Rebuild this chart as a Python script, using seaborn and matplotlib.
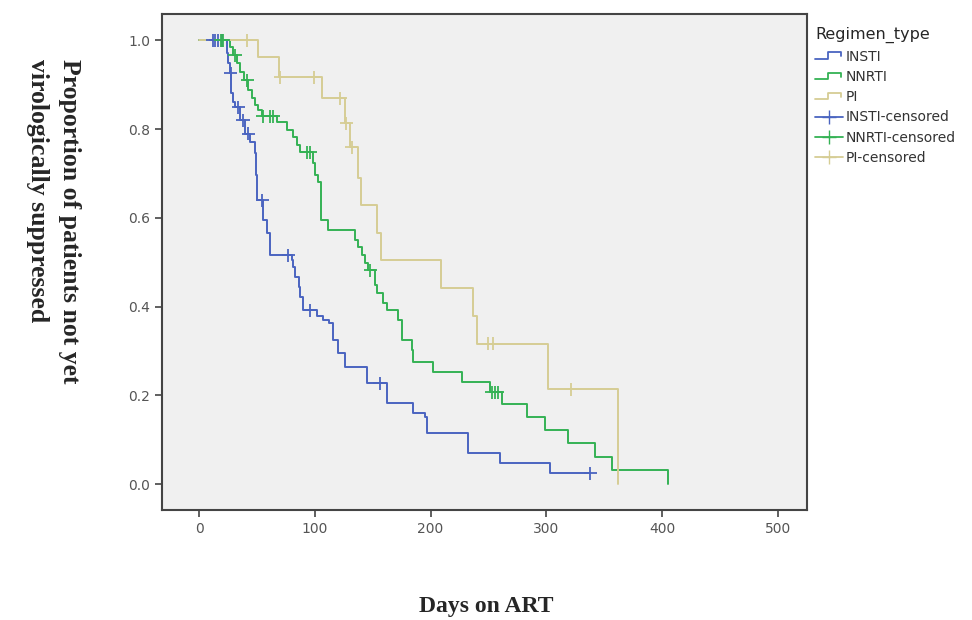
import numpy as np
import pandas as pd
import matplotlib
matplotlib.use("Agg")
import matplotlib.pyplot as plt
import seaborn as sns
from matplotlib.lines import Line2D
from matplotlib.legend_handler import HandlerBase

# Kaplan-Meier steps: event day -> survival after the event
insti_days = [24, 25, 27, 28, 29, 31, 35, 40, 44, 48, 49, 50, 55, 59, 61,
              80, 81, 83, 86, 87, 90, 102, 107, 112, 116, 120, 126, 145,
              162, 185, 195, 197, 232, 260, 303]
insti_surv = [0.971, 0.948, 0.926, 0.881, 0.860, 0.849, 0.820, 0.790, 0.770,
              0.745, 0.696, 0.640, 0.595, 0.565, 0.516, 0.505, 0.489, 0.466,
              0.444, 0.421, 0.392, 0.378, 0.369, 0.363, 0.324, 0.295, 0.264,
              0.227, 0.182, 0.160, 0.151, 0.115, 0.070, 0.047, 0.025]
insti_end = 338
insti_cens = [12, 14, 16, 20, 27.2, 34, 38, 42.5, 54.5, 77, 96, 156, 338]

nnrti_days = [27, 29, 33, 35, 39, 42, 46, 48, 51, 54, 67, 76, 81, 85, 87,
              98, 100, 103, 105, 111, 135, 137, 141, 143, 146, 152, 154, 159,
              162, 172, 175, 184, 185, 202, 227, 251, 262, 283, 299, 319,
              342, 357, 405]
nnrti_surv = [0.984, 0.966, 0.948, 0.928, 0.910, 0.887, 0.869, 0.854, 0.842,
              0.829, 0.815, 0.797, 0.782, 0.764, 0.748, 0.723, 0.696, 0.680,
              0.595, 0.572, 0.550, 0.534, 0.516, 0.498, 0.482, 0.448, 0.430,
              0.408, 0.392, 0.369, 0.324, 0.302, 0.275, 0.252, 0.230, 0.207,
              0.180, 0.151, 0.122, 0.092, 0.061, 0.032, 0.0]
nnrti_end = 405
nnrti_cens = [19, 21, 31, 41.5, 55, 61, 64, 93, 96, 148, 253, 256, 258]

pi_days = [51, 69, 106, 126, 130, 137, 140, 154, 157, 209, 237, 240, 301, 362]
pi_surv = [0.962, 0.917, 0.869, 0.813, 0.759, 0.690, 0.630, 0.567, 0.504,
           0.441, 0.378, 0.317, 0.214, 0.0]
pi_end = 362
pi_cens = [41, 70, 99, 122, 127, 132, 250, 254, 321]

groups = ["INSTI", "NNRTI", "PI"]
colors = {"INSTI": "#4a64c0", "NNRTI": "#34b254", "PI": "#d6cd94"}


def step_value(days, surv, t):
    i = np.searchsorted(days, t, side="right")
    return 1.0 if i == 0 else surv[i - 1]


curve_rows, cens_rows = [], []
for g, d, s, end, c in [("INSTI", insti_days, insti_surv, insti_end, insti_cens),
                        ("NNRTI", nnrti_days, nnrti_surv, nnrti_end, nnrti_cens),
                        ("PI", pi_days, pi_surv, pi_end, pi_cens)]:
    curve_rows.append((g, 0, 1.0))
    curve_rows += [(g, t, v) for t, v in zip(d, s)]
    if end > d[-1]:
        curve_rows.append((g, end, s[-1]))
    cens_rows += [(g, t, step_value(d, s, t)) for t in c]

curves = pd.DataFrame(curve_rows, columns=["group", "day", "surv"])
censored = pd.DataFrame(cens_rows, columns=["group", "day", "surv"])

sns.set_style("white")
fig = plt.figure(figsize=(9.72, 6.2), dpi=100)
ax = fig.add_axes([0.1667, 0.177, 0.664, 0.8])
ax.set_facecolor("#f0f0f0")

sns.lineplot(data=curves, x="day", y="surv", hue="group", palette=colors,
             hue_order=groups, drawstyle="steps-post", estimator=None,
             sort=False, linewidth=1.4, legend=False, ax=ax)
sns.scatterplot(data=censored, x="day", y="surv", hue="group", palette=colors,
                hue_order=groups, marker="+", s=90, linewidth=1.3,
                legend=False, ax=ax, zorder=3)

ax.set_xlim(-32, 525.5)
ax.set_ylim(-0.0586, 1.0586)
ax.set_xticks(np.arange(0, 501, 100))
ax.set_yticks(np.arange(0, 1.01, 0.2))
ax.set_yticklabels([f"{v:.1f}" for v in np.arange(0, 1.01, 0.2)])
ax.tick_params(axis="both", direction="out", length=5, width=1.2,
               colors="#444444", labelcolor="#555555", labelsize=10,
               bottom=True, left=True)
for sp in ax.spines.values():
    sp.set_color("#444444")
    sp.set_linewidth(1.5)
ax.set_xlabel("")
ax.set_ylabel("")

serif = ["Liberation Serif", "DejaVu Serif"]
# y label reads top to bottom, first line on the right
fig.text(0.072, 0.905, "Proportion of patients not yet", rotation=270,
         ha="center", va="top", family=serif, fontweight="bold", fontsize=18.5)
fig.text(0.039, 0.905, "virologically suppressed", rotation=270,
         ha="center", va="top", family=serif, fontweight="bold", fontsize=18.5)
fig.text(0.5, 0.021, "Days on ART", ha="center", va="center", family=serif,
         fontweight="bold", fontsize=17)


class StepHandler(HandlerBase):
    def create_artists(self, legend, orig_handle, xdescent, ydescent,
                       width, height, fontsize, trans):
        xs = np.array([0, 0.45, 0.45, 0.92, 0.92]) * width - xdescent
        ys = np.array([0.2, 0.2, 0.85, 0.85, 0.45]) * height - ydescent
        ln = Line2D(xs, ys, color=orig_handle.get_color(), lw=1.3)
        ln.set_transform(trans)
        return [ln]


step_handles = [Line2D([], [], color=colors[g]) for g in groups]
cens_handles = [Line2D([], [], color=colors[g], marker="+", markersize=10,
                       lw=1.3) for g in groups]
handler_map = {h: StepHandler() for h in step_handles}
leg = fig.legend(step_handles + cens_handles,
                 groups + [g + "-censored" for g in groups],
                 handler_map=handler_map, title="Regimen_type",
                 loc="upper left", bbox_to_anchor=(0.833, 0.965),
                 frameon=False, fontsize=10, title_fontsize=11.5,
                 handlelength=2.0, handletextpad=0.2, labelspacing=0.45,
                 borderaxespad=0, alignment="left")
for t in leg.get_texts():
    t.set_color("#333333")

fig.savefig("out.png", dpi=100, facecolor="white")
